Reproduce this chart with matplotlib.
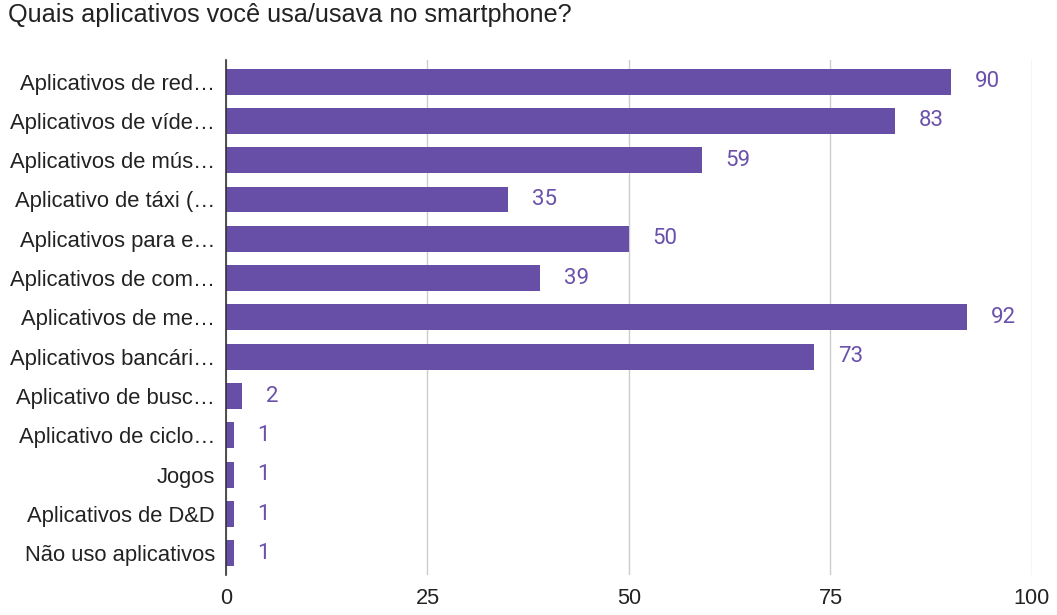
import matplotlib
matplotlib.use("Agg")
from matplotlib import pyplot as plt

categories = [
    "Aplicativos de red…",
    "Aplicativos de víde…",
    "Aplicativos de mús…",
    "Aplicativo de táxi (…",
    "Aplicativos para e…",
    "Aplicativos de com…",
    "Aplicativos de me…",
    "Aplicativos bancári…",
    "Aplicativo de busc…",
    "Aplicativo de ciclo…",
    "Jogos",
    "Aplicativos de D&D",
    "Não uso aplicativos",
]
values = [90, 83, 59, 35, 50, 39, 92, 73, 2, 1, 1, 1, 1]
xticks = [0, 25, 50, 75, 100]

bar_color = "#674ea7"
plt.rcParams["font.family"] = ["Liberation Sans", "DejaVu Sans"]

fig = plt.figure(figsize=(10.57, 6.15), dpi=100)
ax = fig.add_axes([0.2138, 0.065, 0.7625, 0.8376])

pos = list(range(len(categories)))
ax.barh(pos, values, height=0.66, color=bar_color, zorder=3)
for p, v in zip(pos, values):
    ax.annotate(str(v), (v, p), xytext=(17, 0), textcoords="offset points",
                va="center", ha="left", fontsize=16, color="#6a51ab",
                family="Roboto")

ax.set_ylim(len(categories) - 0.45, -0.55)
ax.set_xlim(0, 100)
ax.set_xticks(xticks)
ax.set_xticklabels([str(t) for t in xticks], fontsize=15.7, color="#222222")
ax.set_yticks(pos)
ax.set_yticklabels(categories, fontsize=15.8, color="#222222")
ax.tick_params(axis="both", length=0)
ax.tick_params(axis="y", pad=8)
ax.tick_params(axis="x", pad=9)
ax.grid(axis="x", color="#cccccc", linewidth=1, zorder=0)
for s in ["top", "right", "bottom"]:
    ax.spines[s].set_visible(False)
ax.spines["left"].set_color("#333333")
ax.spines["left"].set_linewidth(1.2)
ax.spines["left"].set_zorder(4)

fig.text(0.008, 0.995, "Quais aplicativos você usa/usava no smartphone?",
         fontsize=18.2, color="#222222", va="top", ha="left")

fig.savefig("out.png", dpi=100)
